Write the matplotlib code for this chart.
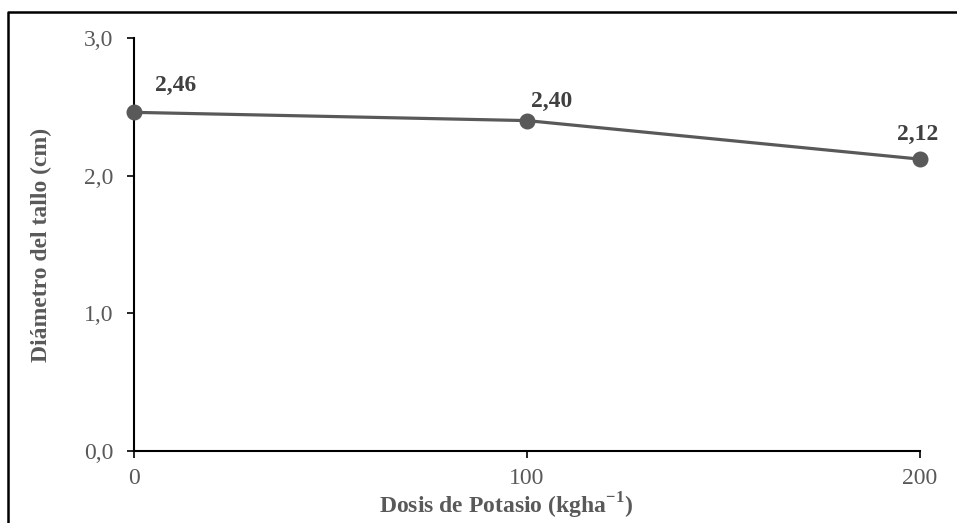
import matplotlib.pyplot as plt
from matplotlib.lines import Line2D
from matplotlib.ticker import FuncFormatter

# datos
dosis = [0, 100, 200]
diametro = [2.46, 2.40, 2.12]
etiquetas = ["2,46", "2,40", "2,12"]
desplaz = [(30, 19), (18, 14), (-2, 18)]  # offset de las etiquetas (pt)

plt.rcParams['font.family'] = ['Liberation Serif', 'DejaVu Serif']
plt.rcParams['mathtext.fontset'] = 'custom'
plt.rcParams['mathtext.rm'] = 'Liberation Serif'
plt.rcParams['mathtext.bf'] = 'Liberation Serif:bold'

fig = plt.figure(figsize=(9.57, 5.23), dpi=100)
ax = fig.add_axes([134/957, 1-451/523, (920-134)/957, (451-38)/523])

ax.plot(dosis, diametro, color='#595959', lw=2.3, marker='o', ms=10.5,
        clip_on=False, zorder=3)

for x, y, t, d in zip(dosis, diametro, etiquetas, desplaz):
    ax.annotate(t, (x, y), xytext=d, textcoords='offset points',
                ha='center', va='center', fontsize=17, fontweight='bold',
                color='#404040')

ax.set_xlim(0, 200)
ax.set_ylim(0, 3)
ax.set_xticks(dosis)
ax.set_yticks([0, 1, 2, 3])
ax.yaxis.set_major_formatter(FuncFormatter(lambda v, p: f"{v:.1f}".replace('.', ',')))

for s in ['top', 'right']:
    ax.spines[s].set_visible(False)
for s in ['left', 'bottom']:
    ax.spines[s].set_linewidth(1.5)
    ax.spines[s].set_color('black')

ax.tick_params(axis='both', direction='out', length=5, width=1.2,
               labelsize=17, labelcolor='#595959', color='black')
ax.tick_params(axis='y', pad=10)
ax.tick_params(axis='x', pad=7)

ax.set_ylabel('Diámetro del tallo (cm)', fontsize=17, fontweight='bold',
              color='#595959', va='center')
ax.yaxis.set_label_coords(-(134-41)/(920-134), 0.5)
ax.set_xlabel('Dosis de Potasio (kgha$^{\\mathbf{-1}}$)', fontsize=17,
              fontweight='bold', color='#595959', va='center')
ax.xaxis.set_label_coords((506-134)/(920-134), -(506-451)/(451-38))

# marco del gráfico
xf = 8/957
yf = 1-12/523
fig.add_artist(Line2D([xf, xf, 1.0], [0.0, yf, yf], color='black', lw=1.8,
                      transform=fig.transFigure))

fig.savefig('out.png', dpi=100)
